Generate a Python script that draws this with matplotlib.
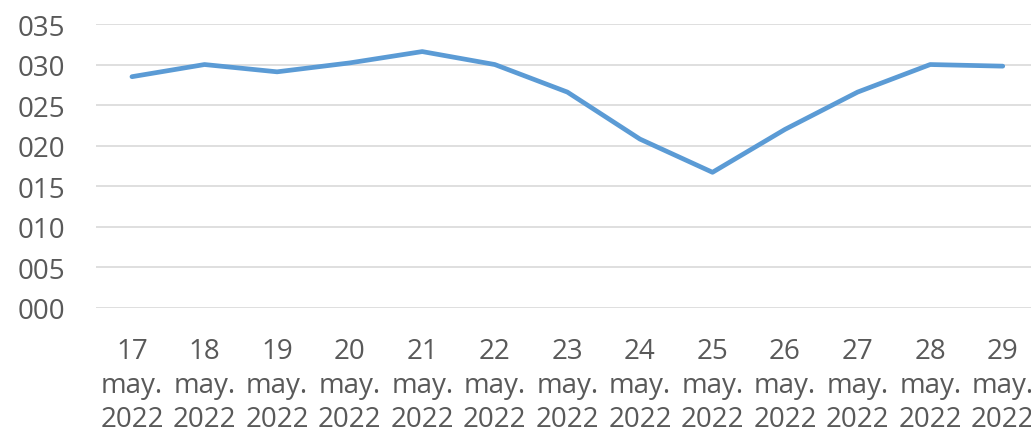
import numpy as np
from matplotlib import pyplot as plt
from matplotlib.ticker import FuncFormatter

days = ["17", "18", "19", "20", "21", "22", "23", "24", "25", "26", "27", "28", "29"]
month = "may."
year = "2022"
values = [28.5, 30.0, 29.1, 30.2, 31.6, 30.0, 26.6, 20.8, 16.7, 22.0, 26.6, 30.0, 29.8]
yticks = [0, 5, 10, 15, 20, 25, 30, 35]

plt.rcParams['font.family'] = ['Open Sans', 'DejaVu Sans']

fig = plt.figure(figsize=(10.31, 4.39), dpi=100)
ax = fig.add_axes([0.0928, 0.297, 0.915, 0.646])

x = np.arange(len(days))
ax.plot(x, values, color='#5B9BD5', linewidth=3.4, solid_capstyle='round', solid_joinstyle='round', zorder=3)

ax.set_xlim(-0.5, len(days) - 0.5)
ax.set_ylim(0, 35)
ax.set_yticks(yticks)
ax.yaxis.set_major_formatter(FuncFormatter(lambda v, p: f"{int(v):03d}"))
ax.set_xticks(x)
ax.set_xticklabels([f"{d}\n{month}\n{year}" for d in days], linespacing=1.28)

ax.grid(axis='y', color='#D9D9D9', linewidth=1.2)
ax.set_axisbelow(True)
for s in ax.spines.values():
    s.set_visible(False)
ax.tick_params(axis='both', length=0, labelsize=20, colors='#595959')
ax.tick_params(axis='y', pad=22)
ax.tick_params(axis='x', pad=21)

fig.savefig('out.png', dpi=100)
